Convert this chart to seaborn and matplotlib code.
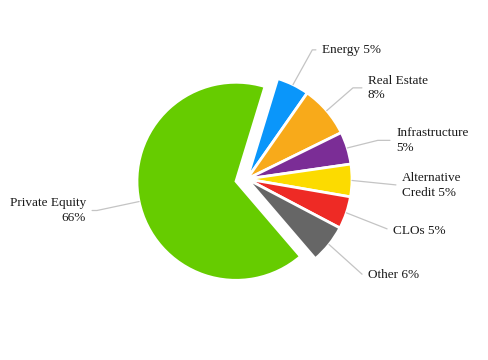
import matplotlib
matplotlib.use("Agg")
import matplotlib.pyplot as plt
import seaborn as sns
import numpy as np

# data
categories = ["Energy", "Real Estate", "Infrastructure", "Alternative Credit",
              "CLOs", "Other", "Private Equity"]
shares = [5, 8, 5, 5, 5, 6, 66]
labels = ["Energy 5%", "Real Estate\n8%", "Infrastructure\n5%", "Alternative\nCredit 5%",
          "CLOs 5%", "Other 6%", "Private Equity\n66%"]
colors = ["#0a96fa", "#f8aa1a", "#7b2d96", "#fcdb00", "#ee2a25", "#666666", "#66cc00"]

# layout for labels (pie radius = 1)
label_xy = [(0.714, 1.230), (1.152, 0.868), (1.419, 0.368), (1.476, -0.062),
            (1.390, -0.497), (1.152, -0.915), (-1.533, -0.300)]
connect = ["angle,angleA=0,angleB=61", "angle,angleA=0,angleB=41",
           "angle,angleA=0,angleB=14", "arc3,rad=0", "arc3,rad=0",
           "angle,angleA=0,angleB=-42", "angle,angleA=0,angleB=12"]

sns.set_theme(style="white")
plt.rcParams["font.family"] = ["Liberation Serif", "DejaVu Serif"]

fig = plt.figure(figsize=(4.89, 3.6), dpi=100)
ax = fig.add_axes([0, 0, 1, 1])

explode = [0, 0, 0, 0, 0, 0, 0.107]
wedges, _ = ax.pie(shares, colors=colors, startangle=73, counterclock=False,
                   explode=explode,
                   wedgeprops=dict(edgecolor="white", linewidth=2))
wedges[-1].set_radius(0.943)  # the sliced piece is drawn a bit smaller

for w, lab, (tx, ty), cs in zip(wedges, labels, label_xy, connect):
    mid = np.deg2rad((w.theta1 + w.theta2) / 2)
    cx, cy = w.center
    px, py = cx + w.r * np.cos(mid), cy + w.r * np.sin(mid)
    ha = "right" if tx < 0 else "left"
    ax.annotate(lab, xy=(px, py), xytext=(tx, ty), ha=ha, va="center",
                multialignment=ha, fontsize=9.5, color="#1a1a1a",
                linespacing=1.3,
                arrowprops=dict(arrowstyle="-", color="#c4c4c4", lw=0.9,
                                shrinkA=2, shrinkB=0,
                                relpos=(1, 0.5) if tx < 0 else (0, 0.5),
                                connectionstyle=cs))

ax.set_xlim(-247 / 105, 242 / 105)
ax.set_ylim(-181 / 105, 179 / 105)
ax.set_aspect("equal")
ax.set_axis_off()

fig.savefig("out.png", dpi=100)
